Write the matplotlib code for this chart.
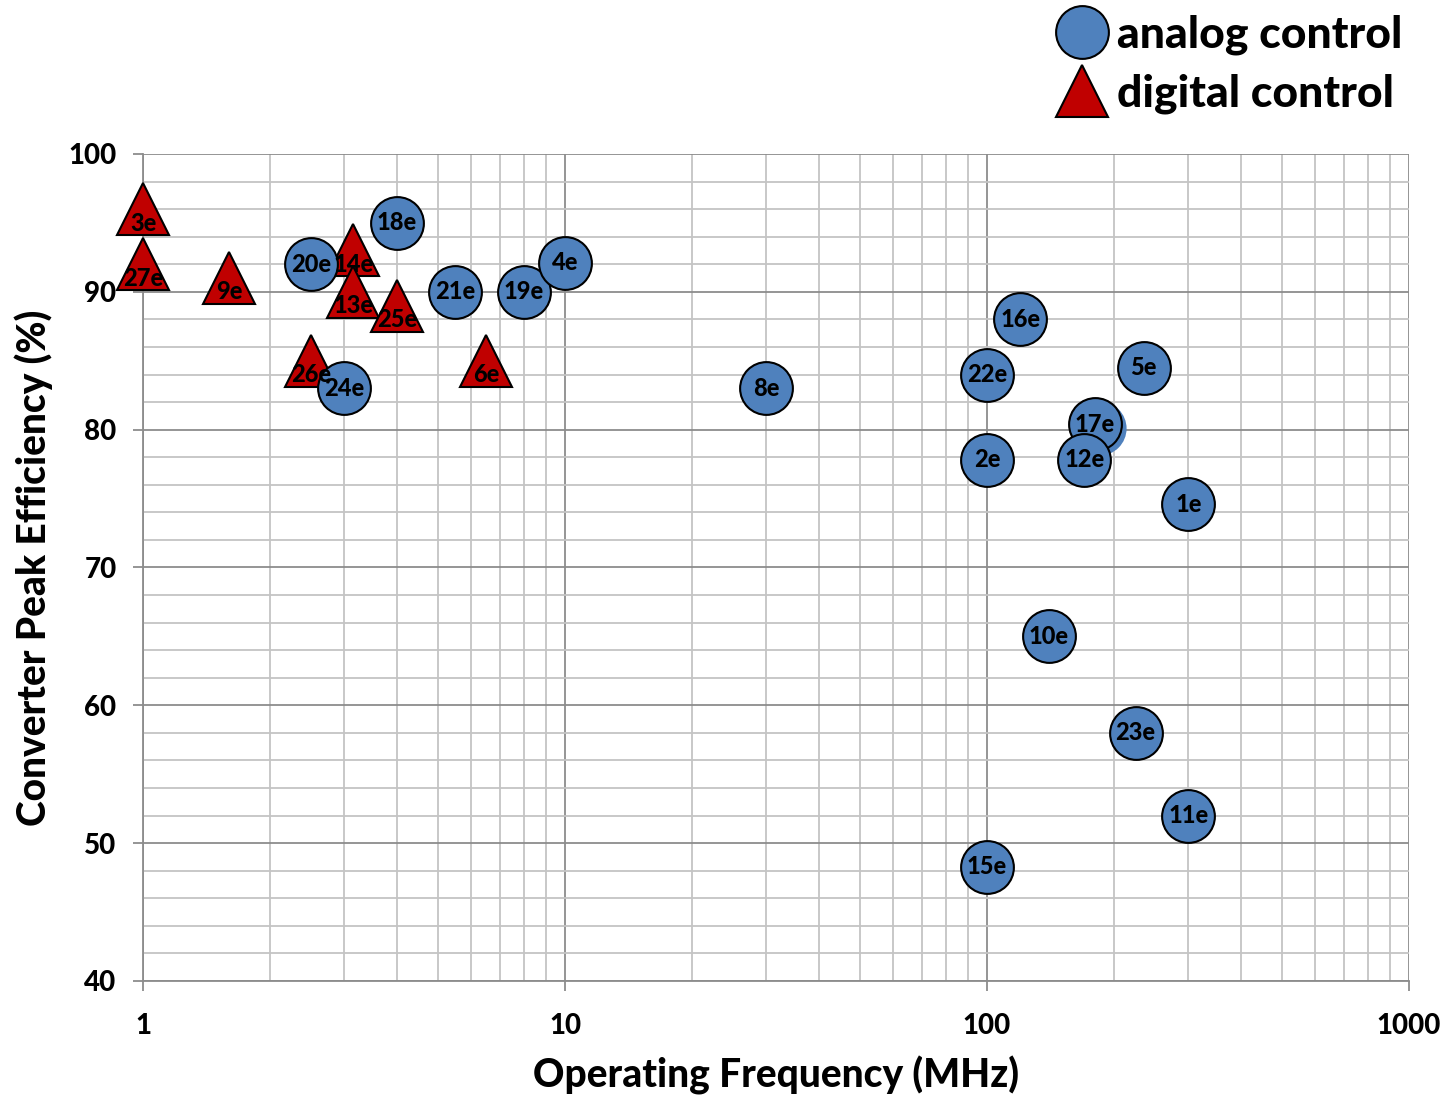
import numpy as np
import matplotlib
matplotlib.use('Agg')
from matplotlib import pyplot as plt
from matplotlib.ticker import FixedLocator, NullFormatter, FixedFormatter

plt.rcParams['font.family'] = ['Lato', 'DejaVu Sans']
W = 'black'

# analog control converters: frequency (MHz), peak efficiency (%), label
analog_f = [4.0, 2.5, 3.0, 5.5, 8.0, 10.0, 30.0, 100.0, 120.0, 235.0,
            180.0, 170.0, 100.0, 300.0, 140.0, 225.0, 300.0, 100.0]
analog_eff = [95.0, 92.0, 83.0, 90.0, 90.0, 92.1, 83.0, 84.0, 88.0, 84.5,
              80.4, 77.8, 77.8, 74.6, 65.0, 58.0, 52.0, 48.3]
analog_lbl = ['18e', '20e', '24e', '21e', '19e', '4e', '8e', '22e', '16e', '5e',
              '17e', '12e', '2e', '1e', '10e', '23e', '11e', '15e']

# point sitting under 17e (no label shown)
hidden_f = [184.0]
hidden_eff = [80.1]

# digital control converters
digital_f = [1.0, 1.0, 1.6, 3.15, 3.15, 4.0, 2.5, 6.5]
digital_eff = [96.0, 92.0, 91.0, 93.0, 90.0, 89.0, 85.0, 85.0]
digital_lbl = ['3e', '27e', '9e', '14e', '13e', '25e', '26e', '6e']

blue = '#4F81BD'
red = '#C00000'

fig = plt.figure(figsize=(14.49, 10.99), dpi=100)
ax = fig.add_axes([143 / 1449, 1 - 981 / 1099, 1266 / 1449, 827 / 1099])

ax.set_xscale('log')
ax.set_xlim(1, 1000)
ax.set_ylim(40, 100)

# gridlines: light minor, darker major
ax.xaxis.set_major_locator(FixedLocator([1, 10, 100, 1000]))
ax.xaxis.set_major_formatter(FixedFormatter(['1', '10', '100', '1000']))
minor_x = [m * 10 ** d for d in range(3) for m in range(2, 10)]
ax.xaxis.set_minor_locator(FixedLocator(minor_x))
ax.xaxis.set_minor_formatter(NullFormatter())
ax.yaxis.set_major_locator(FixedLocator(np.arange(40, 101, 10)))
ax.yaxis.set_minor_locator(FixedLocator(np.arange(40, 101, 2)))

ax.grid(which='minor', color='#C4C4C4', lw=1.3, zorder=0)
ax.grid(which='major', color='#8C8C8C', lw=1.3, zorder=0)
ax.set_axisbelow(True)
for s in ['top', 'right']:
    ax.spines[s].set_visible(False)
for s in ['left', 'bottom']:
    ax.spines[s].set_color('#8C8C8C')
    ax.spines[s].set_linewidth(1.3)
ax.tick_params(which='major', length=7, width=1.3, color='#8C8C8C',
               labelsize=20)
ax.tick_params(axis='y', which='major', pad=12)
ax.tick_params(axis='x', which='major', pad=16)
ax.tick_params(which='minor', length=0)
for t in ax.get_xticklabels() + ax.get_yticklabels():
    t.set_fontweight(W)

# markers
ax.plot(digital_f, digital_eff, ls='none', marker='^', ms=38, mfc=red,
        mec='black', mew=1.5, zorder=3, clip_on=False, label='digital control')
ax.plot(hidden_f, hidden_eff, ls='none', marker='o', ms=39, mfc=blue,
        mec='none', zorder=4, clip_on=False)
ax.plot(analog_f, analog_eff, ls='none', marker='o', ms=38, mfc=blue,
        mec='black', mew=1.5, zorder=5, clip_on=False, label='analog control')

for f, e, l in zip(analog_f, analog_eff, analog_lbl):
    ax.annotate(l, (f, e), ha='center', va='center', fontsize=17,
                fontweight=W, zorder=10, annotation_clip=False)
for f, e, l in zip(digital_f, digital_eff, digital_lbl):
    ax.annotate(l, (f, e), xytext=(0, -10), textcoords='offset points',
                ha='center', va='center', fontsize=17, fontweight=W,
                zorder=10, annotation_clip=False)

ax.set_xlabel('Operating Frequency (MHz)', fontsize=28, fontweight=W,
              labelpad=12)
ax.set_ylabel('Converter Peak Efficiency (%)', fontsize=28, fontweight=W,
              labelpad=11)

h, lab = ax.get_legend_handles_labels()
leg = ax.legend(h[::-1], lab[::-1], loc='upper right',
                bbox_to_anchor=(1425 / 1449, 1 + 8 / 1099),
                bbox_transform=fig.transFigure, frameon=False,
                prop={'size': 32, 'weight': W}, markerscale=1.0,
                handletextpad=0.2, labelspacing=0.42, borderpad=0,
                handlelength=1.2)

fig.savefig('out.png', dpi=100)
